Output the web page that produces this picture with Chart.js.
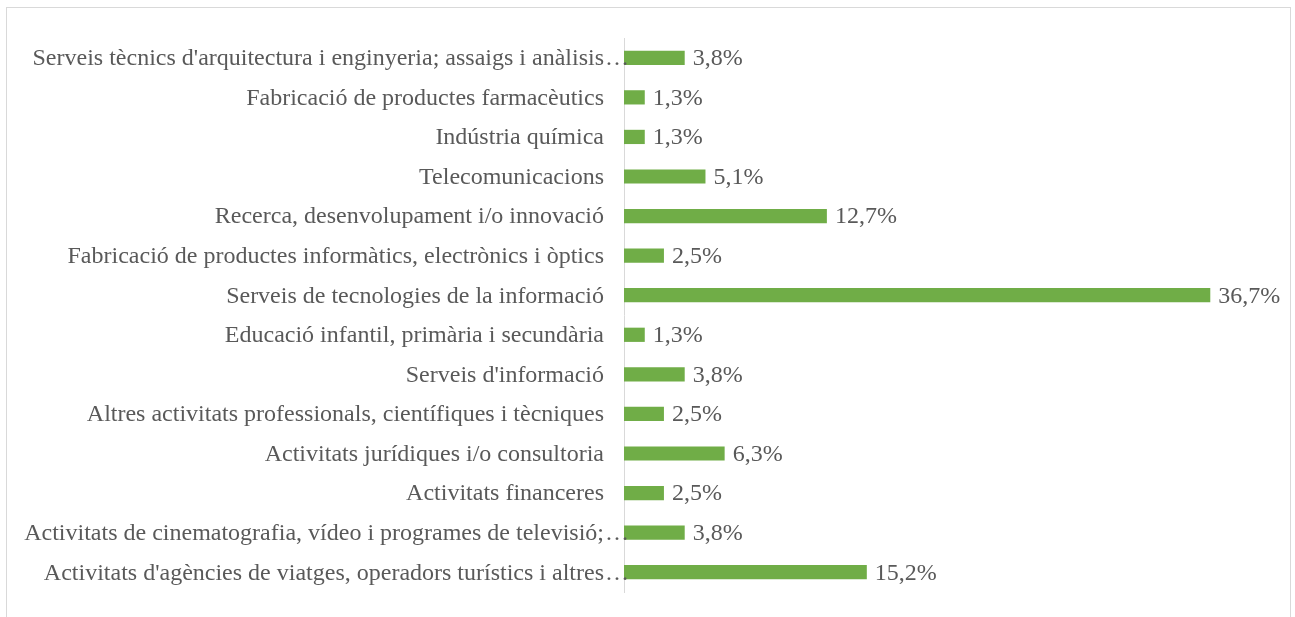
<!DOCTYPE html>
<html>
<head>
<meta charset="utf-8">
<script src="https://cdn.jsdelivr.net/npm/chart.js@4/dist/chart.umd.min.js"></script>
<style>
  html, body { margin: 0; padding: 0; background: #fff; overflow: hidden; }
  #frame {
    position: absolute; left: 6px; top: 7px; width: 1285px; height: 611px;
    border: 1px solid #d9d9d9; border-bottom: none; box-sizing: border-box;
  }
  #chart { position: absolute; left: 0; top: 0; }
</style>
</head>
<body>
<div id="frame"></div>
<canvas id="chart" width="1295" height="617"></canvas>
<script>
// Categories, top to bottom
const categories = [
  "Serveis tècnics d'arquitectura i enginyeria; assaigs i anàlisis…",
  "Fabricació de productes farmacèutics",
  "Indústria química",
  "Telecomunicacions",
  "Recerca, desenvolupament i/o innovació",
  "Fabricació de productes informàtics, electrònics i òptics",
  "Serveis de tecnologies de la informació",
  "Educació infantil, primària i secundària",
  "Serveis d'informació",
  "Altres activitats professionals, científiques i tècniques",
  "Activitats jurídiques i/o consultoria",
  "Activitats financeres",
  "Activitats de cinematografia, vídeo i programes de televisió;…",
  "Activitats d'agències de viatges, operadors turístics i altres…"
];

// Share of each sector (%)
const percentages = [3.8, 1.3, 1.3, 5.1, 12.7, 2.5, 36.7, 1.3, 3.8, 2.5, 6.3, 2.5, 3.8, 15.2];

const FONT = "'Liberation Serif', 'Times New Roman', serif";
const TEXT_COLOR = "#595959";

// Category labels: right aligned before the axis, a trailing "…" hangs past the text edge (like Excel)
const categoryLabels = {
  id: "categoryLabels",
  afterDraw(chart) {
    const ctx = chart.ctx;
    const yScale = chart.scales.y;
    const right = yScale.right - 20;
    ctx.save();
    ctx.font = "24px " + FONT;
    ctx.fillStyle = TEXT_COLOR;
    ctx.textBaseline = "middle";
    categories.forEach(function (label, i) {
      const y = yScale.getPixelForValue(i) + 1;
      if (label.endsWith("…")) {
        ctx.textAlign = "right";
        ctx.fillText(label.slice(0, -1), right, y);
        ctx.textAlign = "left";
        ctx.fillText("…", right + 1, y);
      } else {
        ctx.textAlign = "right";
        ctx.fillText(label, right, y);
      }
    });
    ctx.restore();
  }
};

// Draws "3,8%" style labels to the right of each bar
const valueLabels = {
  id: "valueLabels",
  afterDatasetsDraw(chart) {
    const ctx = chart.ctx;
    const meta = chart.getDatasetMeta(0);
    ctx.save();
    ctx.font = "24px " + FONT;
    ctx.fillStyle = TEXT_COLOR;
    ctx.textAlign = "left";
    ctx.textBaseline = "middle";
    meta.data.forEach(function (bar, i) {
      const txt = percentages[i].toFixed(1).replace(".", ",") + "%";
      ctx.fillText(txt, bar.x + 8, bar.y + 1);
    });
    ctx.restore();
  }
};

const ctx = document.getElementById("chart").getContext("2d");
new Chart(ctx, {
  type: "bar",
  data: {
    labels: categories,
    datasets: [{
      data: percentages,
      backgroundColor: "#70AD47",
      barPercentage: 0.36,
      categoryPercentage: 1
    }]
  },
  options: {
    indexAxis: "y",
    responsive: false,
    animation: false,
    layout: { padding: { left: 0, right: 32, top: 38, bottom: 25 } },
    plugins: { legend: { display: false }, tooltip: { enabled: false } },
    scales: {
      x: { display: false, min: 0, max: 40 },
      y: {
        grid: { display: false, drawTicks: false },
        border: { display: true, color: "#d9d9d9", width: 1 },
        ticks: { display: false },
        afterFit: function (scale) {
          scale.width = 624;
          scale.paddingTop = 0;
          scale.paddingBottom = 0;
        }
      }
    }
  },
  plugins: [categoryLabels, valueLabels]
});
</script>
</body>
</html>
